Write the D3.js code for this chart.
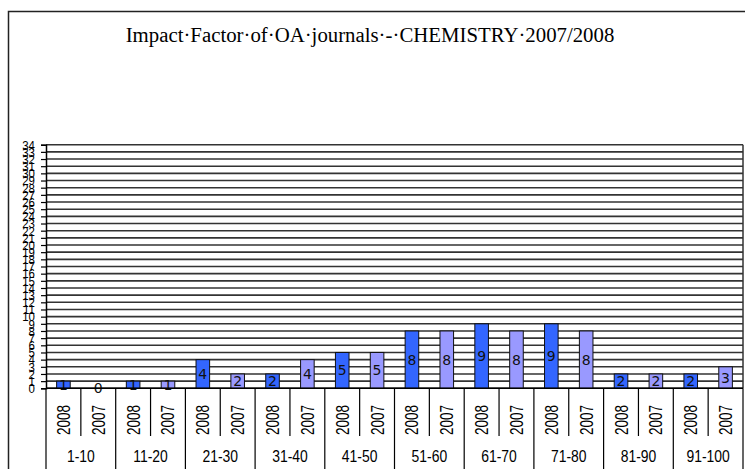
<!DOCTYPE html>
<html>
<head>
<meta charset="utf-8">
<script src="https://cdn.jsdelivr.net/npm/d3@7"></script>
<style>
  body { margin: 0; background: #fff; }
  svg { display: block; }
</style>
</head>
<body>
<div id="chart"></div>
<script>

var groups = ["1-10", "11-20", "21-30", "31-40", "41-50", "51-60", "61-70", "71-80", "81-90", "91-100"];
var years = ["2008", "2007"];
var values2008 = [1, 1, 4, 2, 5, 8, 9, 9, 2, 2];
var values2007 = [0, 1, 2, 4, 5, 8, 8, 8, 2, 3];
var yTicks = d3.range(0, 35);

var title = "Impact\u00b7Factor\u00b7of\u00b7OA\u00b7journals\u00b7-\u00b7CHEMISTRY\u00b72007/2008";

function getData(){
    var data = Array();
    groups.forEach(function(g, i) {
        data.push({ 'group': g, 'year': '2008', 'value': values2008[i] });
        data.push({ 'group': g, 'year': '2007', 'value': values2007[i] });
    });
    return data;
}

function drawChart(containerId, data){

    var width = 745, height = 469;
    var plot = {left: 46, right: 743, top: 144.7, bottom: 388.3};
    var sans = "'Liberation Sans', Arial, sans-serif";

    var svg = d3.select('#' + containerId).append("svg")
        .attr("width", width)
        .attr("height", height);

    // outer frame, cropped at right / bottom like the picture
    svg.append("rect")
        .attr("x", 8.5).attr("y", 11.5)
        .attr("width", 800).attr("height", 600)
        .attr("fill", "none")
        .attr("stroke", "#222")
        .attr("stroke-width", 1.5);

    svg.append("text")
        .attr("x", 370)
        .attr("y", 42)
        .attr("text-anchor", "middle")
        .attr("font-family", "'Liberation Serif', 'DejaVu Serif', serif")
        .attr("font-size", 20.8)
        .attr("fill", "#000")
        .text(title);

    var keys = data.map(function(d) { return d.group + "|" + d.year; });

    var x = d3.scaleBand()
        .domain(keys)
        .range([plot.left, plot.right])
        .paddingInner(0)
        .paddingOuter(0);

    var y = d3.scaleLinear()
        .domain([0, 34])
        .range([plot.bottom, plot.top]);

    // grid lines at every unit
    svg.selectAll("line.grid")
        .data(yTicks)
        .enter().append("line")
        .attr("class", "grid")
        .attr("x1", plot.left)
        .attr("x2", plot.right)
        .attr("y1", y)
        .attr("y2", y)
        .style("stroke", "#333")
        .style("stroke-width", 1.6);

    // right edge of plot
    svg.append("line")
        .attr("x1", plot.right).attr("x2", plot.right)
        .attr("y1", plot.top).attr("y2", plot.bottom)
        .style("stroke", "#333").style("stroke-width", 1.5);

    var yAxis = g => g
        .attr("transform", 'translate(' + plot.left + ',0)')
        .call(d3.axisLeft(y).tickValues(yTicks).tickSize(5).tickPadding(3).tickFormat(d3.format("d")))
        .call(g => g.select(".domain").attr("stroke", "#000").attr("stroke-width", 1.5))
        .call(g => g.selectAll(".tick line").attr("stroke", "#000").attr("stroke-width", 1.2))
        .call(g => g.selectAll(".tick text")
            .attr("x", null)
            .attr("transform", "translate(-11,0) scale(0.85,1)")
            .attr("font-family", sans)
            .attr("font-size", 13.5)
            .attr("fill", "#000"));

    svg.append("g").call(yAxis);

    // bars
    var colors = {'2008': '#3366ff', '2007': '#9999ff'};
    var barW = x.bandwidth() * 0.39;

    svg.append("g")
        .selectAll("rect")
        .data(data)
        .join("rect")
        .attr("x", d => x(d.group + "|" + d.year) + (x.bandwidth() - barW) / 2)
        .attr("y", d => y(d.value))
        .attr("width", barW)
        .attr("height", d => y(0) - y(d.value))
        .attr("fill", d => colors[d.year])
        .attr("stroke", "#111")
        .attr("stroke-width", 1);

    svg.append("g")
        .selectAll("text")
        .data(data)
        .join("text")
        .attr("x", d => x(d.group + "|" + d.year) + x.bandwidth() / 2)
        .attr("y", d => (y(d.value) + y(0)) / 2)
        .attr("dy", "0.36em")
        .attr("text-anchor", "middle")
        .attr("font-family", "'DejaVu Sans', sans-serif")
        .attr("font-size", 14)
        .attr("fill", "#111")
        .text(d => d.value);

    // x axis line
    svg.append("line")
        .attr("x1", plot.left).attr("x2", plot.right)
        .attr("y1", plot.bottom).attr("y2", plot.bottom)
        .style("stroke", "#000").style("stroke-width", 1.5);

    // category dividers below the axis
    var bounds = keys.map(k => x(k)).concat([plot.right]);
    svg.selectAll("line.div")
        .data(bounds)
        .enter().append("line")
        .attr("class", "div")
        .attr("x1", d => d).attr("x2", d => d)
        .attr("y1", plot.bottom)
        .attr("y2", (d, i) => i % 2 === 0 ? height : 436)
        .style("stroke", "#000")
        .style("stroke-width", 1.2);

    // year labels, rotated and condensed
    svg.append("g")
        .selectAll("text")
        .data(data)
        .join("text")
        .attr("transform", d => 'translate(' + (x(d.group + "|" + d.year) + x.bandwidth() / 2) + ',420) rotate(-90) scale(0.75,1)')
        .attr("dy", "0.36em")
        .attr("text-anchor", "middle")
        .attr("font-family", sans)
        .attr("font-size", 18)
        .attr("fill", "#000")
        .text(d => d.year);

    // group labels
    svg.append("g")
        .selectAll("text")
        .data(groups)
        .join("text")
        .attr("transform", g => 'translate(' + (x(g + "|2008") + x.bandwidth()) + ',462) scale(0.82,1)')
        .attr("text-anchor", "middle")
        .attr("font-family", sans)
        .attr("font-size", 17)
        .attr("fill", "#000")
        .text(g => g);
}

drawChart('chart', getData());

</script>
</body>
</html>
